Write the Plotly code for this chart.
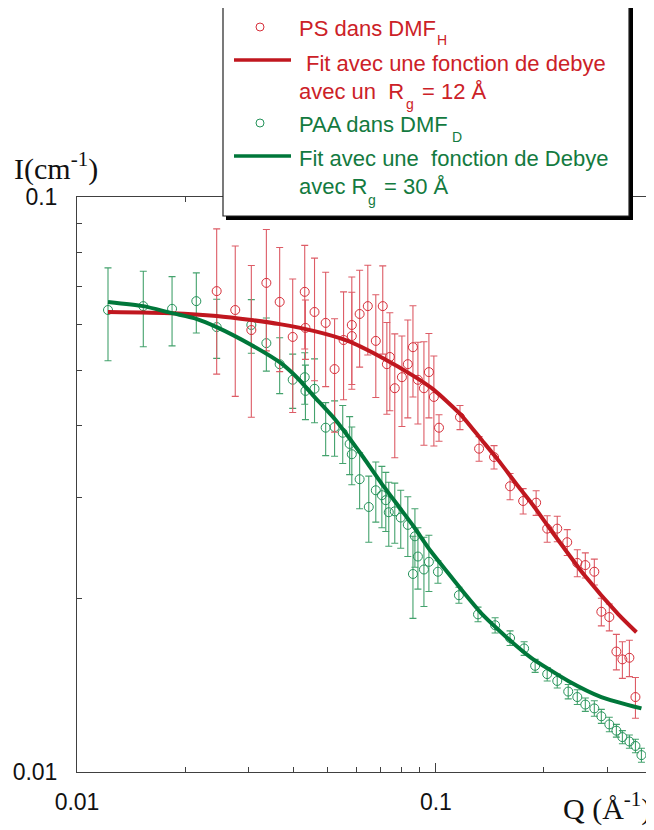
import plotly.graph_objects as go

# ---------------- data ----------------
q_paa = [0.0122, 0.0153, 0.0184, 0.0215, 0.0245, 0.0306, 0.0337, 0.0367, 0.0399, 0.0431,
         0.0433, 0.0459, 0.0493, 0.0522, 0.0550, 0.0575, 0.0583, 0.0613, 0.0650, 0.0680,
         0.0707, 0.0725, 0.0739, 0.0768, 0.0798, 0.0835, 0.0863, 0.0874, 0.0891, 0.0926,
         0.0956, 0.1013, 0.1159, 0.1310, 0.1462, 0.1609, 0.1761, 0.1890, 0.2042, 0.2178,
         0.2337, 0.2477, 0.2608, 0.2763, 0.2890, 0.3042, 0.3183, 0.3308, 0.3460, 0.3597,
         0.3738]
i_paa = [0.0636, 0.0646, 0.0639, 0.0659, 0.0594, 0.0599, 0.0557, 0.0512, 0.0481, 0.0486,
         0.0460, 0.0464, 0.0397, 0.0398, 0.0389, 0.0372, 0.0357, 0.0323, 0.0289, 0.0309,
         0.0303, 0.0297, 0.0283, 0.0284, 0.0277, 0.0269, 0.0221, 0.0257, 0.0237, 0.0225,
         0.0232, 0.0223, 0.0203, 0.0188, 0.0180, 0.0171, 0.0164, 0.0153, 0.0148, 0.0144,
         0.0138, 0.0135, 0.0131, 0.0129, 0.0125, 0.0121, 0.0118, 0.0115, 0.0113, 0.0111,
         0.0107]
e_paa = [0.0117, 0.0097, 0.0088, 0.0079, 0.0070, 0.0064, 0.0059, 0.0057, 0.0052, 0.0050,
         0.0050, 0.0059, 0.0042, 0.0044, 0.0045, 0.0043, 0.0041, 0.0036, 0.0038, 0.0037,
         0.0037, 0.0035, 0.0036, 0.0034, 0.0032, 0.0032, 0.0036, 0.0030, 0.0029, 0.0031,
         0.0026, 0.0010, 0.00065, 0.00055, 0.00055, 0.0005, 0.00045, 0.0004, 0.0004, 0.0004,
         0.0004, 0.0004, 0.00035, 0.0004, 0.00035, 0.00035, 0.0003, 0.0003, 0.0003, 0.0003,
         0.0003]

q_ps = [0.0245, 0.0276, 0.0306, 0.0337, 0.0367, 0.0399, 0.0431, 0.0433, 0.0459, 0.0493,
        0.0522, 0.0553, 0.0583, 0.0583, 0.0613, 0.0646, 0.0680, 0.0711, 0.0730, 0.0744,
        0.0768, 0.0804, 0.0835, 0.0863, 0.0891, 0.0926, 0.0956, 0.0987, 0.1020, 0.1167,
        0.1319, 0.1452, 0.1609, 0.1750, 0.1902, 0.2042, 0.2178, 0.2322, 0.2477, 0.2608,
        0.2763, 0.2890, 0.3042, 0.3183, 0.3308, 0.3460, 0.3597]
i_ps = [0.0686, 0.0636, 0.0587, 0.0709, 0.0657, 0.0571, 0.0684, 0.0592, 0.0631, 0.0604,
        0.0502, 0.0564, 0.0599, 0.0573, 0.0626, 0.0646, 0.0562, 0.0646, 0.0512, 0.0527,
        0.0465, 0.0486, 0.0512, 0.0548, 0.0481, 0.0465, 0.0496, 0.0449, 0.0397, 0.0414,
        0.0365, 0.0353, 0.0314, 0.0296, 0.0294, 0.0265, 0.0265, 0.0251, 0.0231, 0.0229,
        0.0223, 0.0190, 0.0186, 0.0162, 0.0157, 0.0158, 0.0135]
e_ps = [0.0194, 0.0186, 0.0173, 0.0169, 0.0160, 0.0149, 0.0140, 0.0070, 0.0152, 0.0136,
        0.0112, 0.0120, 0.0127, 0.0110, 0.0120, 0.0115, 0.0114, 0.0113, 0.0093, 0.0102,
        0.0113, 0.0087, 0.0099, 0.0099, 0.0078, 0.0095, 0.0083, 0.0080, 0.0021, 0.0020,
        0.0018, 0.00165, 0.00165, 0.0015, 0.00145, 0.0014, 0.00135, 0.0013, 0.00125, 0.00115,
        0.00115, 0.00105, 0.0010, 0.00115, 0.00115, 0.00115, 0.0011]

q_fit_paa = [0.0122, 0.0153, 0.0184, 0.0215, 0.0245, 0.0306, 0.0367, 0.0412, 0.0456, 0.0526,
             0.0579, 0.0629, 0.0702, 0.0783, 0.0868, 0.0968, 0.1080, 0.1197, 0.1336, 0.1490,
             0.1652, 0.1843, 0.2337, 0.2890, 0.3738]
i_fit_paa = [0.0657, 0.0646, 0.0628, 0.0614, 0.0594, 0.0553, 0.0516, 0.0484, 0.0451, 0.0409,
             0.0378, 0.0352, 0.0319, 0.0291, 0.0267, 0.0242, 0.0222, 0.0205, 0.0189, 0.0177,
             0.0167, 0.0158, 0.0144, 0.0135, 0.0129]

q_fit_ps = [0.0122, 0.0184, 0.0245, 0.0306, 0.0367, 0.0456, 0.0568, 0.0702, 0.0868, 0.0987,
            0.1174, 0.1336, 0.1490, 0.1695, 0.1843, 0.2095, 0.2591, 0.3224, 0.3620]
i_fit_ps = [0.0631, 0.0628, 0.0621, 0.0611, 0.0601, 0.0585, 0.0562, 0.0527, 0.0488, 0.0462,
            0.0418, 0.0379, 0.0349, 0.0314, 0.0294, 0.0263, 0.0220, 0.0188, 0.0175]

x_major = [0.01, 0.1]
x_major_text = ["0.01", "0.1"]
x_minor = [0.02, 0.03, 0.04, 0.05, 0.06, 0.07, 0.08, 0.09, 0.2, 0.3]
y_major = [0.01, 0.1]
y_major_text = ["0.01", "0.1"]
y_minor = [0.02, 0.03, 0.04, 0.05, 0.06, 0.07, 0.08, 0.09]

# ---------------- styles ----------------
RED_LINE = "#c0171f"
RED_MK = "#d62f3a"
RED_ERR = "#dd5c66"
RED_TXT = "#cc2127"
GRN_LINE = "#00773a"
GRN_MK = "#24925a"
GRN_ERR = "#44a26d"
GRN_TXT = "#137a40"
AX = "#404040"
SANS = "Liberation Sans, Arial, sans-serif"
SERIF = "Liberation Serif, Times New Roman, serif"

# the page body adds an 8 px offset; figure is sized to fill the rest of the window
OFF = 8
W, H = 654 - OFF, 830 - OFF
L, R, T, B = 69, 2, 189, 58
PW, PH = W - L - R, H - T - B


def PX(x):
    """screen x (window pixels) -> paper fraction"""
    return (x - OFF - L) / PW


def PY(y):
    """screen y (window pixels) -> paper fraction"""
    return (H - B - (y - OFF)) / PH


fig = go.Figure()

fig.add_trace(go.Scatter(
    x=q_paa, y=i_paa, mode="markers", name="PAA dans DMF_D",
    marker=dict(symbol="circle-open", size=9, color=GRN_MK, line=dict(width=1)),
    error_y=dict(type="data", array=e_paa, color=GRN_ERR, thickness=1.1, width=3.5),
))
fig.add_trace(go.Scatter(
    x=q_ps, y=i_ps, mode="markers", name="PS dans DMF_H",
    marker=dict(symbol="circle-open", size=9, color=RED_MK, line=dict(width=1)),
    error_y=dict(type="data", array=e_ps, color=RED_ERR, thickness=1.1, width=3.5),
))
fig.add_trace(go.Scatter(
    x=q_fit_ps, y=i_fit_ps, mode="lines", name="Fit PS",
    line=dict(color=RED_LINE, width=4, shape="spline", smoothing=0.6),
))
fig.add_trace(go.Scatter(
    x=q_fit_paa, y=i_fit_paa, mode="lines", name="Fit PAA",
    line=dict(color=GRN_LINE, width=4, shape="spline", smoothing=0.6),
))

axis_common = dict(
    type="log", showline=True, linecolor=AX, linewidth=1, mirror="ticks",
    ticks="inside", ticklen=9, tickwidth=1, tickcolor=AX,
    showgrid=False, zeroline=False,
    tickfont=dict(family=SANS, size=23, color="#111111"),
)

fig.update_xaxes(
    **axis_common, range=[-2, -0.39794], tickmode="array",
    tickvals=x_major, ticktext=x_major_text, ticklabelstandoff=9,
    minor=dict(ticks="inside", ticklen=5, tickwidth=1, tickcolor=AX,
               tickmode="array", tickvals=x_minor, showgrid=False),
)
fig.update_yaxes(
    **axis_common, range=[-2, -1], tickmode="array",
    tickvals=y_major, ticktext=y_major_text, ticklabelstandoff=14,
    minor=dict(ticks="inside", ticklen=5, tickwidth=1, tickcolor=AX,
               tickmode="array", tickvals=y_minor, showgrid=False),
)

# ---------------- legend box ----------------
shapes = [
    dict(type="rect", xref="paper", yref="paper", x0=PX(226), x1=PX(633), y0=PY(220), y1=PY(6),
         fillcolor="black", line=dict(width=0), layer="above"),
    dict(type="rect", xref="paper", yref="paper", x0=PX(223), x1=PX(629), y0=PY(216), y1=PY(3),
         fillcolor="white", line=dict(color="#222222", width=1.2), layer="above"),
    dict(type="line", xref="paper", yref="paper", x0=PX(234), x1=PX(291), y0=PY(60), y1=PY(60),
         line=dict(color=RED_LINE, width=3.5), layer="above"),
    dict(type="line", xref="paper", yref="paper", x0=PX(234), x1=PX(291), y0=PY(156), y1=PY(156),
         line=dict(color=GRN_LINE, width=3.5), layer="above"),
    dict(type="circle", xref="paper", yref="paper", x0=PX(256), x1=PX(264), y0=PY(31), y1=PY(23),
         line=dict(color=RED_MK, width=1), layer="above"),
    dict(type="circle", xref="paper", yref="paper", x0=PX(256), x1=PX(264), y0=PY(127), y1=PY(119),
         line=dict(color=GRN_MK, width=1), layer="above"),
]

LEG = 22
SUB = 14


def txt(s, x, y, color, size=LEG, family=SANS, xanchor="left"):
    return dict(text=s, x=PX(x), y=PY(y), xref="paper", yref="paper", showarrow=False,
                xanchor=xanchor, yanchor="middle", font=dict(family=family, size=size, color=color))


annotations = [
    txt("PS dans DMF", 297, 28, RED_TXT),
    txt("H", 435, 40, RED_TXT, SUB),
    txt("Fit avec une fonction de debye", 304, 63, RED_TXT),
    txt("avec un\u00a0 R", 297, 91, RED_TXT),
    txt("g", 404, 104, RED_TXT, SUB),
    txt("= 12 Å", 420, 91, RED_TXT),
    txt("PAA dans DMF", 297, 124, GRN_TXT),
    txt("D", 450, 137, GRN_TXT, SUB),
    txt("Fit avec une\u00a0 fonction de Debye", 297, 159, GRN_TXT),
    txt("avec R", 297, 186, GRN_TXT),
    txt("g", 366, 200, GRN_TXT, SUB),
    txt("= 30 Å", 382, 186, GRN_TXT),
    txt("I(cm<sup>-1</sup>)", 12, 166, "#111111", 30, SERIF),
    txt("Q (Å<sup>-1</sup>)", 653, 806, "#111111", 30, SERIF, xanchor="right"),
]

fig.update_layout(
    width=W, height=H, margin=dict(l=L, r=R, t=T, b=B, pad=0),
    paper_bgcolor="white", plot_bgcolor="white", showlegend=False,
    shapes=shapes, annotations=annotations,
)

fig.write_html("out.html")
